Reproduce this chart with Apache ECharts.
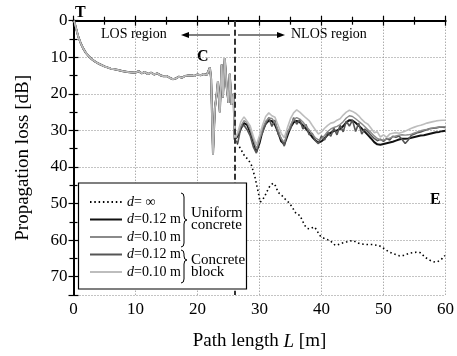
<!DOCTYPE html>
<html>
<head>
<meta charset="utf-8">
<script src="https://cdn.jsdelivr.net/npm/echarts@6/dist/echarts.min.js"></script>
<style>
  html, body { margin: 0; padding: 0; background: #fff; }
  #chart { width: 457px; height: 356px; }
</style>
</head>
<body>
<div id="chart"></div>
<script>
// LOS part (same for every solid curve), L [m] / loss [dB]
var losL = [0.1,0.4,0.8,1.2,1.6,2,2.5,3,3.5,4,5,6,7,8,9,10,10.5,11,11.5,12,12.5,13,13.5,14,14.5,15,15.5,16,16.5,17,17.5,18,18.5,19,19.5,20,20.5,21,21.5,21.8,22.0,22.2,22.5,22.8,23.1,23.3,23.6,23.9,24.1,24.4,24.7,25.0,25.2,25.5,25.8,26.0];
var losDb = [0,2,4.5,6.3,7.7,8.8,9.8,10.6,11.2,11.7,12.5,13.1,13.4,13.8,14.1,14.2,13.8,14.4,14.0,14.6,14.2,14.7,14.4,14.9,15.2,15.1,15.6,16.0,15.8,15.3,15.6,15.1,15.0,14.9,15.1,14.7,14.9,14.6,14.8,14.6,12.8,16,36.5,24,20,16.5,25,12,21,10.2,18,22.5,14.5,23,20,32.5];

// NLOS part
var nlosL = [26.5,27,27.5,28,28.5,29,29.5,30,30.5,31,31.5,32,32.5,33,33.5,34,34.5,35,35.5,36,36.5,37,37.5,38,38.5,39,39.5,40,40.5,41,41.5,42,42.5,43,43.5,44,44.5,45,45.5,46,46.5,47,47.5,48,48.5,49,49.5,50,50.5,51,51.5,52,52.5,53,53.5,54,54.5,55,55.5,56,56.5,57,57.5,58,58.5,59,59.5,60];
var uniform12 = [31.5,29.5,28,28.5,30.5,33,35.8,33.5,30,28.2,27.3,27.4,28.5,30.5,33,33.8,31.5,29.2,27.8,27.4,27.8,28.6,29.6,30.6,31.8,32.7,33.3,33,32.2,31.2,30.6,30.2,30,29.6,28.8,27.8,27.2,27.3,27.9,28.7,29.5,30.4,31.3,32.2,33.2,33.8,33.9,33.7,33.5,33.3,33.1,32.8,32.5,32.3,32.3,32.2,32,31.8,31.6,31.4,31.3,31.1,30.9,30.7,30.5,30.4,30.2,30.1];
var uniform10 = [31,28.8,27.3,27.8,29.8,32.5,35,32.8,29.4,27.5,26.6,26.7,27.8,29.8,32.3,33.2,30.8,28.5,27,26.5,26.9,27.7,28.8,29.8,31,32,32.6,32.3,31.4,30.3,29.6,29.2,28.9,28.4,27.6,26.6,26,26.2,26.8,27.5,28.2,29,29.8,30.6,31.5,32.2,32.6,32.6,32.4,32.1,31.8,31.5,31.3,31.2,31.3,31.2,31,30.7,30.4,30.1,29.9,29.7,29.5,29.3,29.2,29.1,29,29];
var block12 = [33.5,29,28.6,29.8,31.5,34.5,36.2,32.2,30.6,28.2,26.5,28.9,27.2,31,32.2,34.3,30.2,29.6,26.5,28.3,27,29.6,28.4,31.2,30.8,32.8,33.6,31.5,32.6,30.5,31.6,29.4,31.2,28.6,30.4,27.5,28.8,27.2,30.3,28,31,29.6,30.4,31.3,32.2,32.8,32.4,33,32.2,32.6,31.6,31.9,31.5,32.5,33.6,32.6,31.3,31,30.6,30.4,30.1,29.8,29.5,29.4,29.3,29.1,29.1,29.2];
var block10 = [30.5,27.6,26.3,27.5,28.8,31.6,34,31.4,28.5,26.2,25.2,26,26.4,28.6,30.8,32,29.3,26.8,25.2,24.4,25,25.8,26.6,27.3,28.6,29.8,31,30.4,29.4,28.6,28,27.8,27.2,26.8,25.8,25,24.5,24.8,25.3,26,27,27.8,28.3,29.4,30.6,30.4,31.8,31.2,31.9,31,30.8,30.6,30.8,30.5,30.2,29.8,29.4,29.1,28.8,28.6,28.3,28,27.8,27.6,27.4,27.3,27.2,27.2];

// d = infinity (dotted)
var infL = [26.0,26.3,26.8,27.6,28.2,28.7,29.3,29.8,30.1,30.5,30.9,31.3,31.7,32.2,32.6,33,33.5,34.1,34.5,34.9,35.3,35.7,36.1,36.5,36.9,37.3,37.7,38.1,38.5,38.9,39.3,39.7,40.1,40.5,41,41.4,41.8,42.2,42.6,43,43.5,44,44.5,45.1,45.6,46.2,46.7,47.3,47.8,48.3,48.9,49.4,50,50.5,51,51.6,52.1,52.6,53.2,53.7,54.2,54.8,55.3,55.9,56.3,56.7,57.1,57.5,57.9,58.3,58.7,59.1,59.5,59.9];
var infDb = [32.5,32,34.6,37,38,39.5,43,46.9,49.6,49,47.8,46.4,45.1,44.4,45.2,46.9,47.6,48.7,49.3,50.1,51,52.3,53,53.2,54.6,56,56.8,56.9,56.6,56.4,57.5,58.7,59.2,59.6,59.9,60.1,60.8,61.4,61.3,61,60.7,60.5,60.3,60.1,60.6,61,61.1,61.2,61.2,61.2,61.4,61.6,62.2,62.8,63.3,63.7,64,64.3,64.2,63.9,63.6,63.4,63.3,63.4,64,64.7,65.1,65.5,65.8,66,65.9,65.5,65,64.2];

var boundaryL = 26;
var legendLabels = {
  inf: '{i|d}{n|= ∞}',
  u12: '{i|d}{n|=0.12 m}',
  u10: '{i|d}{n|=0.10 m}',
  b12: '{i|d}{n|=0.12 m}',
  b10: '{i|d}{n|=0.10 m}'
};

function zip(xs, ys) {
  var out = [];
  for (var i = 0; i < xs.length; i++) out.push([xs[i], ys[i]]);
  return out;
}
function solid(ys) {
  return zip(losL, losDb).concat(zip(nlosL, ys));
}

var serif = '"Liberation Serif", "DejaVu Serif", serif';
var chart = echarts.init(document.getElementById('chart'));

var xBase = {
  type: 'value', min: 0, max: 60, interval: 10,
  axisLine: { lineStyle: { color: '#000', width: 2 } },
  axisTick: { inside: true, length: 5, lineStyle: { color: '#000', width: 1.2 } },
  minorTick: { show: true, splitNumber: 2, length: 4, lineStyle: { color: '#000', width: 1.2 } }
};
var yBase = {
  type: 'value', inverse: true, min: 0, max: 75, interval: 10,
  axisLine: { lineStyle: { color: '#000', width: 2 } },
  axisTick: { inside: true, length: 5, lineStyle: { color: '#000', width: 1.2 } },
  minorTick: { show: true, splitNumber: 2, length: 4, lineStyle: { color: '#000', width: 1.2 } }
};

// half of a curly brace: short horizontal, vertical stem, then the tip
function braceHalf(x0, ya, xb, yb) {
  var xm = (x0 + xb) / 2, dir = yb > ya ? 1 : -1;
  return [
    { type: 'bezierCurve', z: 11,
      shape: { x1: x0, y1: ya, cpx1: xm, cpy1: ya, x2: xm, y2: ya + dir * 4 },
      style: { fill: null, stroke: '#000', lineWidth: 1 } },
    { type: 'line', z: 11,
      shape: { x1: xm, y1: ya + dir * 4, x2: xm, y2: yb - dir * 4 },
      style: { stroke: '#000', lineWidth: 1 } },
    { type: 'bezierCurve', z: 11,
      shape: { x1: xm, y1: yb - dir * 4, cpx1: xm, cpy1: yb, x2: xb, y2: yb },
      style: { fill: null, stroke: '#000', lineWidth: 1 } }
  ];
}

var option = {
  backgroundColor: '#fff',
  animation: false,
  grid: { left: 73.5, right: 11.5, top: 20.7, bottom: 59.3 },
  xAxis: [
    Object.assign({}, xBase, {
      position: 'bottom',
      name: '{a|Path length }{i|L}{a| [m]}',
      nameLocation: 'middle', nameGap: 37,
      nameTextStyle: { rich: {
        a: { fontFamily: serif, fontSize: 19, color: '#000' },
        i: { fontFamily: serif, fontSize: 19, color: '#000', fontStyle: 'italic' }
      } },
      axisLabel: { fontFamily: serif, fontSize: 17, color: '#000', margin: 6 },
      splitLine: { show: true, lineStyle: { color: '#888', width: 1, type: [1, 2] } }
    }),
    Object.assign({}, xBase, {
      position: 'top',
      axisLabel: { show: false },
      splitLine: { show: false }
    })
  ],
  yAxis: [
    Object.assign({}, yBase, {
      position: 'left',
      name: 'Propagation loss [dB]',
      nameLocation: 'middle', nameGap: 41,
      nameTextStyle: { fontFamily: serif, fontSize: 19, color: '#000' },
      axisLabel: { fontFamily: serif, fontSize: 17, color: '#000', margin: 6, showMaxLabel: false },
      splitLine: { show: true, lineStyle: { color: '#888', width: 1, type: [1, 2] } }
    }),
    Object.assign({}, yBase, {
      position: 'right',
      axisLabel: { show: false },
      splitLine: { show: false }
    })
  ],
  legend: {
    orient: 'vertical', left: 89, top: 195, padding: 0,
    itemWidth: 32, itemHeight: 14, itemGap: 3.5,
    z: 20,
    data: ['inf', 'u12', 'u10', 'b12', 'b10'],
    itemStyle: { opacity: 0 },
    formatter: function (name) { return legendLabels[name]; },
    textStyle: {
      rich: {
        i: { fontFamily: serif, fontSize: 14, color: '#000', fontStyle: 'italic' },
        n: { fontFamily: serif, fontSize: 14, color: '#000' }
      }
    }
  },
  series: [
    {
      name: 'inf', type: 'line', showSymbol: false, symbol: 'none',
      data: zip(infL, infDb),
      lineStyle: { color: '#000', width: 1.6, type: [1.5, 2.8] },
      itemStyle: { color: '#000' }
    },
    {
      name: 'u12', type: 'line', showSymbol: false, symbol: 'none',
      data: solid(uniform12),
      lineStyle: { color: '#111', width: 2 },
      itemStyle: { color: '#222' },
      markLine: {
        silent: true, symbol: 'none', label: { show: false },
        lineStyle: { color: '#333', width: 2, type: [6, 3] },
        data: [{ xAxis: boundaryL }]
      }
    },
    {
      name: 'b12', type: 'line', showSymbol: false, symbol: 'none',
      data: solid(block12),
      lineStyle: { color: '#555', width: 1.6 },
      itemStyle: { color: '#555' }
    },
    {
      name: 'u10', type: 'line', showSymbol: false, symbol: 'none',
      data: solid(uniform10),
      lineStyle: { color: '#8a8a8a', width: 1.4 },
      itemStyle: { color: '#8a8a8a' }
    },
    {
      name: 'b10', type: 'line', showSymbol: false, symbol: 'none',
      data: solid(block10),
      lineStyle: { color: '#bdbdbd', width: 1.6 },
      itemStyle: { color: '#bdbdbd' }
    }
  ],
  graphic: [
    { type: 'rect', z: 10, shape: { x: 78.5, y: 183, width: 168, height: 106 },
      style: { fill: '#fff', stroke: '#000', lineWidth: 1.2 } }
  ].concat(
    braceHalf(181, 193, 187, 220),
    braceHalf(181, 247, 187, 220),
    braceHalf(181, 250, 187, 260),
    braceHalf(181, 283, 187, 260),
    [
      { type: 'text', z: 11, left: 191, top: 206,
        style: { text: 'Uniform\nconcrete', font: '15px ' + serif, fill: '#000', lineHeight: 12 } },
      { type: 'text', z: 11, left: 191, top: 253,
        style: { text: 'Concrete\nblock', font: '15px ' + serif, fill: '#000', lineHeight: 12 } },
      // markers
      { type: 'text', left: 75, top: 5, style: { text: 'T', font: 'bold 16px ' + serif, fill: '#000' } },
      { type: 'text', left: 197, top: 49, style: { text: 'C', font: 'bold 16px ' + serif, fill: '#000' } },
      { type: 'text', left: 430, top: 192, style: { text: 'E', font: 'bold 16px ' + serif, fill: '#000' } },
      // region labels and arrows
      { type: 'text', left: 101, top: 27, style: { text: 'LOS region', font: '14px ' + serif, fill: '#000' } },
      { type: 'line', shape: { x1: 230, y1: 35, x2: 186, y2: 35 }, style: { stroke: '#000', lineWidth: 1.2 } },
      { type: 'polygon', shape: { points: [[181, 35], [189, 32], [189, 38]] }, style: { fill: '#000' } },
      { type: 'text', left: 291, top: 27, style: { text: 'NLOS region', font: '14px ' + serif, fill: '#000' } },
      { type: 'line', shape: { x1: 238, y1: 35, x2: 280, y2: 35 }, style: { stroke: '#000', lineWidth: 1.2 } },
      { type: 'polygon', shape: { points: [[285, 35], [277, 32], [277, 38]] }, style: { fill: '#000' } }
    ]
  )
};

chart.setOption(option);
</script>
</body>
</html>
